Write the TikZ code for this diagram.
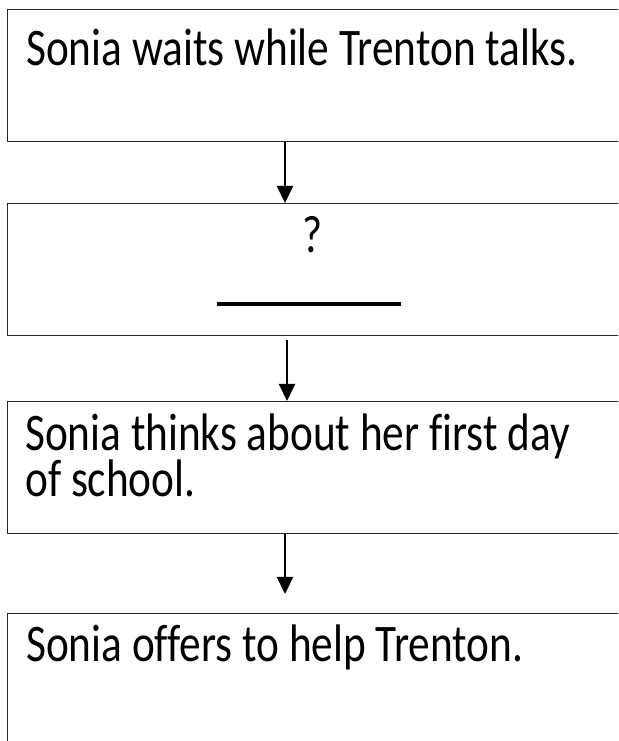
\documentclass[tikz,border=0pt]{standalone}
\usepackage{fontspec}
\setmainfont[Ligatures=NoCommon]{Carlito}
\usetikzlibrary{arrows.meta}
\begin{document}
\begin{tikzpicture}[x=1pt,y=1pt,
  box/.style={draw=black!85, line width=1.3pt, anchor=north west, minimum width=660pt, inner sep=0pt},
  txt/.style={anchor=base west, inner sep=0pt, font=\fontsize{43.3}{38}\selectfont, align=left, yscale=1.22, transform shape},
  arr/.style={line width=2.2pt, -{Triangle[width=16pt,length=17pt]}}]
\clip (0,0) rectangle (618,741);
\fill[white] (0,0) rectangle (618,741);
\node[box, minimum height=132pt] (b1) at (6.5,732) {};
\node[box, minimum height=132pt] (b2) at (6.5,538) {};
\node[box, minimum height=132pt] (b3) at (6.5,340) {};
\node[box, minimum height=150pt] (b4) at (6.5,128) {};
\node[txt] (t1) at (26,675) {Sonia waits while Trenton talks.};
\node[anchor=base, inner sep=0pt, font=\fontsize{43.3}{47}\selectfont, yscale=1.22, transform shape] (q) at (313,488) {?};
\node[fill=black, minimum width=184pt, minimum height=4pt, inner sep=0pt] (blank) at (309,437) {};
\node[txt] (t3) at (25,244) {Sonia thinks about her first day\\of school.};
\node[txt] (t4) at (26,79) {Sonia offers to help Trenton.};
\coordinate (ax1) at (285,0);
\coordinate (ax2) at (287,0);
\coordinate (ax3) at (285,0);
\draw[arr] (b1.south -| ax1) -- (b2.north -| ax1);
\draw[arr] ([yshift=-4pt]b2.south -| ax2) -- (b3.north -| ax2);
\draw[arr, shorten >=19pt] (b3.south -| ax3) -- (b4.north -| ax3);
\end{tikzpicture}
\end{document}
